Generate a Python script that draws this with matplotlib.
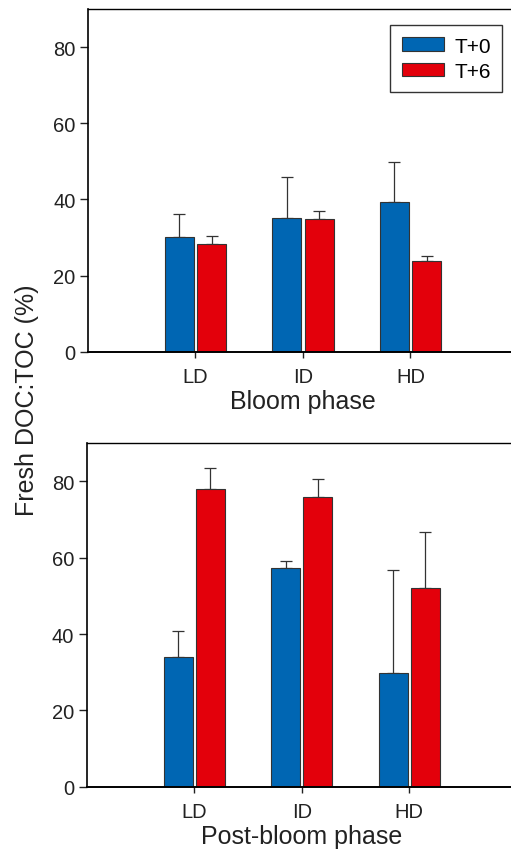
import matplotlib
matplotlib.use('Agg')
import matplotlib.pyplot as plt
import numpy as np

plt.rcParams['font.family'] = ['Liberation Sans', 'DejaVu Sans']

groups = ['LD', 'ID', 'HD']
series = ['T+0', 'T+6']
colors = ['#0066b3', '#e3000b']

# bloom phase (mean, upper error)
bloom_t0 = [30.2, 35.2, 39.2]
bloom_t0_err = [6.0, 10.6, 10.6]
bloom_t6 = [28.2, 34.9, 23.7]
bloom_t6_err = [2.2, 2.1, 1.4]

# post-bloom phase
post_t0 = [33.9, 57.2, 29.8]
post_t0_err = [6.8, 2.0, 26.9]
post_t6 = [78.0, 75.9, 52.2]
post_t6_err = [5.5, 4.8, 14.5]

fig = plt.figure(figsize=(5.11, 8.53), dpi=100)
ax1 = fig.add_axes([0.1722, 0.5865, 0.8415, 0.4018])
ax2 = fig.add_axes([0.1697, 0.0766, 0.8415, 0.4025])

x = np.arange(1, len(groups) + 1)
width = 0.27
offset = 0.15


def draw(ax, t0, t0_err, t6, t6_err, xlabel, legend=False):
    for vals, errs, color, sign, name in [(t0, t0_err, colors[0], -1, series[0]),
                                           (t6, t6_err, colors[1], 1, series[1])]:
        ax.bar(x + sign * offset, vals, width, color=color, edgecolor='#333333',
               linewidth=0.8, label=name, zorder=2)
        ax.errorbar(x + sign * offset, vals, yerr=[np.zeros(len(vals)), errs],
                    fmt='none', ecolor='#333333', elinewidth=0.9, capsize=4,
                    capthick=0.9, zorder=1)
    ax.set_xlim(0, 4)
    ax.set_ylim(0, 90)
    ax.set_yticks([0, 20, 40, 60, 80])
    ax.set_xticks(x)
    ax.set_xticklabels(groups)
    ax.spines['right'].set_visible(False)
    ax.spines['left'].set_linewidth(1.2)
    ax.spines['top'].set_linewidth(1.0)
    ax.spines['bottom'].set_linewidth(1.4)
    ax.tick_params(axis='y', length=6, width=1, labelsize=14.5, pad=3, colors='#222222')
    ax.tick_params(axis='x', length=4, width=1, labelsize=14.5, pad=7, colors='#222222')
    ax.set_xlabel(xlabel, fontsize=18, labelpad=2, color='#222222')
    if legend:
        leg = ax.legend(loc='upper right', bbox_to_anchor=(0.963, 0.953), fontsize=15,
                        fancybox=False, edgecolor='#333333', framealpha=1,
                        handlelength=2.0, handleheight=0.62, borderpad=0.55,
                        labelspacing=0.3, handletextpad=0.5, borderaxespad=0)
        leg.get_frame().set_linewidth(1.0)


draw(ax1, bloom_t0, bloom_t0_err, bloom_t6, bloom_t6_err, 'Bloom phase', legend=True)
draw(ax2, post_t0, post_t0_err, post_t6, post_t6_err, 'Post-bloom phase')

fig.text(27 / 511, 1 - 400 / 853, 'Fresh DOC:TOC (%)', rotation=90, fontsize=18,
         ha='center', va='center', color='#222222')

fig.savefig('out.png', dpi=100, facecolor='white')
